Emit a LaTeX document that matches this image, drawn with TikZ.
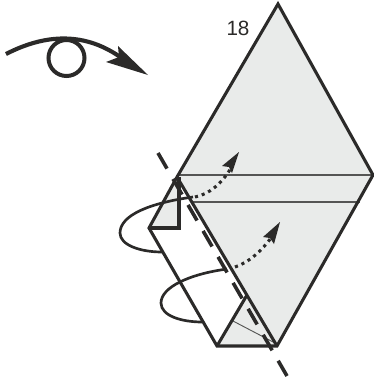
\documentclass[tikz,border=0pt]{standalone}
\usepackage{fontspec}
\setmainfont{Liberation Sans}
\definecolor{ink}{HTML}{2B2A29}
\definecolor{paper}{HTML}{E9EBEA}
\begin{document}
\begin{tikzpicture}[x=0.75pt,y=-0.75pt,line join=miter,
  fold/.style={draw=ink,line width=2.3pt},
  thin fold/.style={draw=ink!80,line width=0.8pt},
  loop/.style={draw=ink,line width=2pt},
  dotline/.style={draw=ink,line width=2.3pt,dash pattern=on 2.3pt off 3pt},
  head/.style={fill=ink,draw=none}]
\useasboundingbox (0,0) rectangle (374,383);
% paper
\fill[paper] (278,4) -- (373,175) -- (277,346) -- (177,177) -- cycle;
\fill[paper] (177,177) -- (149,228) -- (179,228) -- cycle;
\fill[paper] (217,346) -- (247,295) -- (277,346) -- cycle;
% creases
\draw[thin fold] (177,175) -- (373,175);
\draw[thin fold] (192,202) -- (360,202);
\draw[thin fold,line width=.7pt] (233,321) -- (275,343);
% outline
\draw[fold] (177,177) -- (278,4) -- (373,175) -- (277,346) -- (217,346) -- (149,228) -- cycle;
\draw[fold] (177,177) -- (277,346);
\draw[fold] (149,228) -- (179,228) -- (179,177);
\draw[fold] (217,346) -- (247,295);
% valley/mountain line
\draw[draw=ink,line width=2.7pt,dash pattern=on 13.5pt off 9pt] (158,153) -- (287,376);
% loops
\draw[loop] (193,197) .. controls (150,203) and (120,215) .. (120,233) .. controls (120,245) and (140,252) .. (162,252);
\draw[loop] (227,269) .. controls (190,274) and (161,287) .. (161,303) .. controls (161,316) and (182,322) .. (202,322);
% dotted arrows
\draw[dotline] (195,197) .. controls (210,194) and (222,183) .. (231,168);
\fill[head] (239,152) -- (232,173) -- (229,167) -- (222,166) -- cycle;
\draw[dotline] (235,267) .. controls (250,262) and (262,250) .. (271,238);
\fill[head] (280,222) -- (274,244) -- (270,238) -- (263,237) -- cycle;
% eye arrow
\draw[draw=ink,line width=3pt] (66.5,58) circle (18);
\draw[draw=ink,line width=3.1pt] (6,54) .. controls (45,34) and (85,31) .. (123,59);
\fill[head] (148,75) -- (118,46) -- (119,57) -- (106,62) -- cycle;
% label
\node[text=ink,inner sep=0pt,font=\fontsize{15.5pt}{17pt}\selectfont] (n18) at (238,28.5) {18};
\end{tikzpicture}
\end{document}
